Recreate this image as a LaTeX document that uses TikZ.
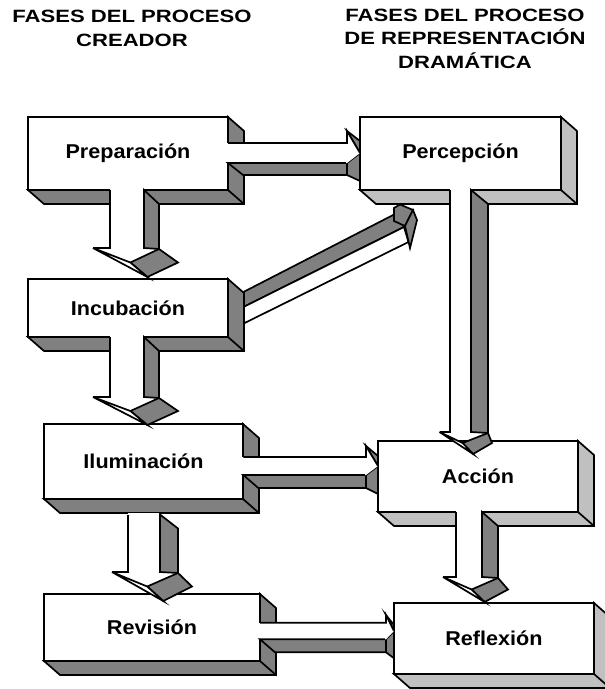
\documentclass[tikz,border=0pt]{standalone}
\usepackage{fontspec}
\setmainfont{Liberation Sans}
\newfontfamily\boxfont{Liberation Sans}[FakeStretch=1.08]
\newfontfamily\titlefont{Liberation Sans}[FakeStretch=1.24]
\usetikzlibrary{calc}
\definecolor{darkside}{HTML}{808080}
\definecolor{lightside}{HTML}{C0C0C0}
\tikzset{
  edge3d/.style={line width=1.7pt, line join=miter},
  phase/.style={edge3d, draw, fill=white, inner sep=0pt, outer sep=0pt,
    minimum width=200pt, font=\boxfont\bfseries\fontsize{20}{24}\selectfont},
  heading/.style={align=center, font=\titlefont\bfseries\fontsize{17.8}{23.5}\selectfont},
}
\begin{document}
\begin{tikzpicture}[x=1pt, y=-1pt]
    \useasboundingbox (0,0) rectangle (605,689);

    \node[heading] (leftttl) at (132,28.5) {FASES DEL PROCESO\\CREADOR};
    \node[heading] (rightttl) at (465,38.5) {FASES DEL PROCESO\\DE REPRESENTACIÓN\\DRAMÁTICA};

    \node[phase, minimum height=73pt] (prep) at (128,153.5) {Preparación};
    \node[phase, minimum height=58pt] (incu) at (128,308) {Incubación};
    \node[phase, minimum width=199pt, minimum height=75pt] (ilum) at (143.5,461.5) {Iluminación};
    \node[phase, minimum width=216pt, minimum height=67pt] (revi) at (152,627.5) {Revisión};
    \node[phase, minimum width=201pt, minimum height=73pt] (perc) at (460.5,153.5) {Percepción};
    \node[phase, minimum height=71pt] (acci) at (478,476.5) {Acción};
    \node[phase, minimum height=71pt] (refl) at (494,638.5) {Reflexión};

    \foreach \n/\c in {prep/darkside, incu/darkside, ilum/darkside, revi/darkside,
                       perc/lightside, acci/lightside, refl/lightside}
    \filldraw[edge3d, fill=\c] (\n.south west) -- ++(16,14) -- ($(\n.south east)+(16,14)$)
        -- ($(\n.north east)+(16,14)$) -- (\n.north east) -- (\n.south east) -- cycle
        (\n.south east) -- ++(16,14);

    \foreach \xl/\xr/\ya/\yb/\dd/\yt in {110/144/190/248/15/277, 110/144/337/397/15/425,
        128/160/514.5/572/18/601, 450/471/190/432/17/454, 456/482/512/577/16/602}{
      \pgfmathsetmacro\ww{\xr-\xl}
      \pgfmathsetmacro\ym{(\yb+\yt)/2}
      \fill[white] (\xl,\ya-1.2) rectangle (\xr,\yb);
      \filldraw[edge3d, fill=darkside] (\xr,\ya) -- (\xr+\dd,\ya+14) -- (\xr+\dd,\yb+1) -- (\xr,\yb) -- cycle;
      \filldraw[edge3d, fill=darkside] (\xl+0.6*\ww,\ym) -- (\xr+\dd,\yb+1) -- (\xr+\ww,\ym) -- (\xr+0.1*\ww,\yt) -- cycle;
      \filldraw[edge3d, fill=white] (\xl-0.5*\ww,\yb) -- (\xl+0.6*\ww,\ym) -- (\xr+0.1*\ww,\yt) -- cycle;
      \draw[edge3d] (\xl,\ya) -- (\xl,\yb) -- (\xl-0.5*\ww,\yb);
    }

    \foreach \xa/\xb/\xt/\ya/\yb/\hh/\dd in {228/347/360/143/163/22/12,
        243.3/366/378/457/475/20/13, 260/386/394/622.7/639.3/16/13}{
      \pgfmathsetmacro\ym{(\ya+\yb)/2}
      \fill[white] (\xa-1.2,\ya) rectangle (\xb,\yb);
      \filldraw[edge3d, fill=darkside] (\xa,\yb) -- (\xa+15,\yb+\dd) -- (\xb,\yb+\dd) -- (\xb,\yb) -- cycle;
      \filldraw[edge3d, fill=darkside] (\xb,\yb) -- (\xt,\ym) -- (\xt,\yb+\dd+6) -- (\xb,\yb+\dd) -- cycle;
      \filldraw[edge3d, fill=darkside] (\xb,\ym-\hh) -- (\xt,\ym-\hh+10) -- (\xt,\ym) -- cycle;
      \fill[white] (\xb-1,\ya) -- (\xb,\ym-\hh) -- (\xt,\ym) -- (\xb,\yb) -- (\xb-1,\yb) -- cycle;
      \draw[edge3d] (\xa,\ya) -- (\xb,\ya) -- (\xb,\ym-\hh) -- (\xt,\ym);
    }

    \filldraw[edge3d, fill=darkside] (244,291.7) -- (397,213) -- (404,227) -- (244,306.7) -- cycle;
    \filldraw[edge3d, fill=white] (244,306.7) -- (404,227) -- (408.5,242) -- (244,323.3) -- cycle;
    \filldraw[edge3d, fill=darkside] (394,208) -- (400,204.5) -- (413,210) -- (405,226) -- (394,221) -- cycle;
    \filldraw[edge3d, fill=darkside] (405,226) -- (413,210) -- (417,220) -- (410,248) -- cycle;

  \end{tikzpicture}
\end{document}
